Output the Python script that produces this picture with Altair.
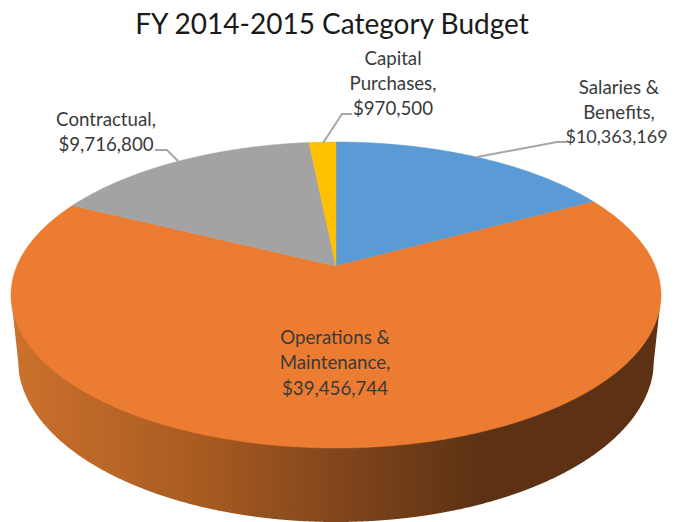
import math
import altair as alt
import pandas as pd

# ---- values
categories = ["Salaries & Benefits", "Operations & Maintenance", "Contractual", "Capital Purchases"]
budget = [10363169, 39456744, 9716800, 970500]
slice_colors = ["#5B9BD5", "#EB7C31", "#A3A3A3", "#FFC000"]
title_text = "FY 2014-2015 Category Budget"

# ---- page-pixel layout of the tilted pie
CX, APEX_Y, TOP_Y, FRONT_Y, HALF_W = 336, 266, 142, 448, 325
W, H = 659, 514
c = (TOP_Y + FRONT_Y - 2 * APEX_Y) / (FRONT_Y - TOP_Y)
a = TOP_Y * (1 + c) - APEX_Y
d = HALF_W * math.sqrt(1 - c * c)


def project(deg):
    """Circle angle (clockwise from 12 o'clock) to the tilted, perspective top face."""
    u, v = math.sin(math.radians(deg)), math.cos(math.radians(deg))
    den = 1 + c * v
    return CX + d * u / den, (a * v + APEX_Y) / den


total = sum(budget)
rows, start = [], 0.0
for name, val in zip(categories, budget):
    sweep = 360 * val / total
    n = max(4, int(sweep * 2))
    pts = [(CX, APEX_Y)] + [project(start + sweep * k / n) for k in range(n + 1)] + [(CX, APEX_Y)]
    for i, (x, y) in enumerate(pts):
        rows.append({"cat": name, "i": i, "x": x, "y": y})
    start += sweep
faces = pd.DataFrame(rows)

x_scale = alt.Scale(domain=[8, 8 + W], range=[0, W])
y_scale = alt.Scale(domain=[8 + H, 8], range=[H, 0])
X = alt.X("x:Q", scale=x_scale, axis=None)
Y = alt.Y("y:Q", scale=y_scale, axis=None)

# ---- side wall silhouette
LOW_CY, LOW_RX, LOW_RY = 360, 318, 162
side = []
for px in range(12, 661):
    ex = (px - CX) / LOW_RX
    if abs(ex) <= 1:
        low = LOW_CY + LOW_RY * math.sqrt(1 - ex * ex)
    else:
        # straight edges from the top face to the lower rim
        edge = 12 if px < CX else 660
        end = CX - LOW_RX if px < CX else CX + LOW_RX
        low = 305 + (LOW_CY - 305) * (px - edge) / (end - edge)
    side.append({"x": px, "y": 300, "y2": low})
side_df = pd.DataFrame(side)

wall = alt.Chart(side_df).mark_area(
    color=alt.Gradient(
        gradient="linear", x1=0, x2=1, y1=0, y2=0,
        stops=[
            alt.GradientStop(color="#CC712D", offset=0),
            alt.GradientStop(color="#A85B21", offset=0.29),
            alt.GradientStop(color="#82461C", offset=0.5),
            alt.GradientStop(color="#5D3214", offset=0.72),
            alt.GradientStop(color="#5C3114", offset=1),
        ],
    )
).encode(x=X, y=Y, y2="y2:Q")

layers = [wall]
for name, col in zip(categories, slice_colors):
    layers.append(
        alt.Chart(faces[faces.cat == name]).mark_line(fill=col, stroke=col, strokeWidth=0.5)
        .encode(x=X, y=Y, order="i:Q")
    )

# ---- leader lines
leaders = pd.DataFrame([
    {"k": "a", "i": 0, "x": 352, "y": 114}, {"k": "a", "i": 1, "x": 342, "y": 114}, {"k": "a", "i": 2, "x": 323, "y": 143},
    {"k": "b", "i": 0, "x": 567, "y": 142}, {"k": "b", "i": 1, "x": 557, "y": 142}, {"k": "b", "i": 2, "x": 477, "y": 157},
    {"k": "c", "i": 0, "x": 155, "y": 150}, {"k": "c", "i": 1, "x": 167, "y": 150}, {"k": "c", "i": 2, "x": 178, "y": 161},
])
layers.append(
    alt.Chart(leaders).mark_line(color="#A6A6A6", strokeWidth=2)
    .encode(x=X, y=Y, detail="k:N", order="i:Q")
)

# ---- text
labels = pd.DataFrame([
    {"t": "Capital", "x": 393, "y": 59},
    {"t": "Purchases,", "x": 393, "y": 84},
    {"t": "$970,500", "x": 393, "y": 109},
    {"t": "Salaries &", "x": 619, "y": 88},
    {"t": "Benefits,", "x": 619, "y": 113},
    {"t": "Contractual,", "x": 106, "y": 120},
    {"t": "$9,716,800", "x": 106, "y": 145},
    {"t": "Operations &", "x": 335, "y": 338},
    {"t": "Maintenance,", "x": 335, "y": 363},
    {"t": "$39,456,744", "x": 335, "y": 389},
])
layers.append(
    alt.Chart(labels).mark_text(font="Lato", fontSize=18.7, color="#3A3A3A", align="center", baseline="middle")
    .encode(x=X, y=Y, text="t:N")
)
# this line reaches the page edge, so it sits a touch tighter than the others
layers.append(
    alt.Chart(pd.DataFrame([{"t": "$10,363,169", "x": 616.5, "y": 138}]))
    .mark_text(font="Lato", fontSize=18, color="#3A3A3A", align="center", baseline="middle")
    .encode(x=X, y=Y, text="t:N")
)
layers.append(
    alt.Chart(pd.DataFrame([{"t": title_text, "x": 332, "y": 26}]))
    .mark_text(font="Lato", fontSize=28, color="#1A1A1A", align="center", baseline="middle")
    .encode(x=X, y=Y, text="t:N")
)

chart = (
    alt.layer(*layers)
    .properties(width=W, height=H, padding=0, background="white", autosize=alt.AutoSizeParams(type="none"))
    .configure_view(stroke=None)
)
chart.save("out.html", embed_options={"renderer": "svg", "actions": False})
